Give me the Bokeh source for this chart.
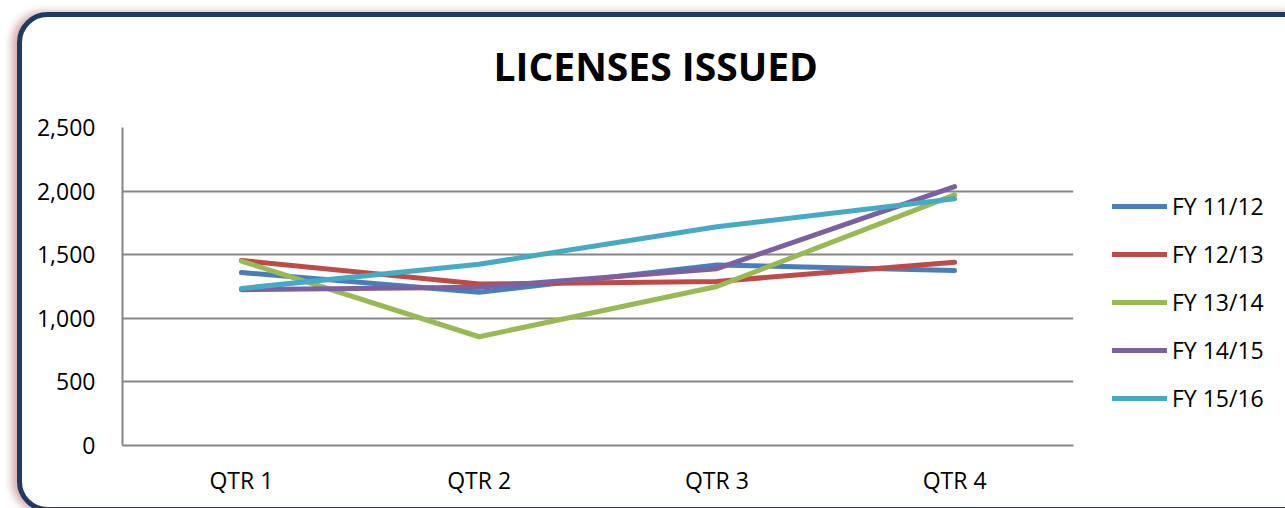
from bokeh.plotting import figure
from bokeh.models import (Legend, LegendItem, NumeralTickFormatter, FactorRange,
                          Range1d, FixedTicker)
from bokeh.embed import file_html
from bokeh.resources import INLINE

quarters = ["QTR 1", "QTR 2", "QTR 3", "QTR 4"]
series_names = ["FY 11/12", "FY 12/13", "FY 13/14", "FY 14/15", "FY 15/16"]
fy_11_12 = [1360, 1205, 1420, 1375]
fy_12_13 = [1455, 1270, 1290, 1440]
fy_13_14 = [1450, 855, 1250, 1970]
fy_14_15 = [1225, 1245, 1390, 2035]
fy_15_16 = [1235, 1425, 1720, 1940]
y_ticks = [0, 500, 1000, 1500, 2000, 2500]

colors = ["#4A7EBB", "#BE4B48", "#98B954", "#7D60A0", "#46AAC5"]
FONT = "Open Sans"

# decorative rounded frame with soft shadow, drawn as the element background
bg_svg = (
    "<svg xmlns='http://www.w3.org/2000/svg' width='1285' height='508'>"
    "<defs><filter id='s' x='-5%' y='-10%' width='110%' height='120%'>"
    "<feGaussianBlur stdDeviation='4'/></filter></defs>"
    "<rect x='12' y='12' width='1300' height='500' rx='30' fill='%23C58A8A' "
    "opacity='0.75' filter='url(%23s)'/>"
    "<rect x='19.5' y='14.5' width='1300' height='495' rx='28' fill='white' "
    "stroke='%231F3B63' stroke-width='5'/>"
    "</svg>"
)

p = figure(frame_width=951, frame_height=318,
           x_range=FactorRange(*quarters, range_padding=0),
           y_range=Range1d(0, 2500), output_backend="svg", toolbar_location=None,
           min_border_left=122, min_border_right=212, min_border_top=127,
           min_border_bottom=63)
p.styles = {"background-image": 'url("data:image/svg+xml;utf8,' + bg_svg + '")',
            "background-repeat": "no-repeat"}
p.outline_line_color = None
p.background_fill_color = None
p.border_fill_color = None

# title
p.title.text = "LICENSES ISSUED"
p.title.text_font = FONT
p.title.text_font_style = "bold"
p.title.text_font_size = "39px"
p.title.text_color = "black"
p.title.align = "left"
p.title.offset = 371
p.title.vertical_align = "bottom"
p.title.standoff = 72

# axes
p.yaxis.ticker = FixedTicker(ticks=y_ticks)
p.yaxis.formatter = NumeralTickFormatter(format="0,0")
for ax in (p.xaxis[0], p.yaxis[0]):
    ax.axis_line_color = "#868686"
    ax.axis_line_width = 2
    ax.major_tick_line_color = None
    ax.minor_tick_line_color = None
    ax.major_label_text_font = FONT
    ax.major_label_text_font_size = "23px"
    ax.major_label_text_color = "black"
p.yaxis.major_label_standoff = 21
p.xaxis.major_label_standoff = 12
p.xgrid.grid_line_color = None
p.ygrid.grid_line_color = "#868686"
p.ygrid.grid_line_width = 2

# lines
items = []
for name, vals, c in zip(series_names, [fy_11_12, fy_12_13, fy_13_14, fy_14_15, fy_15_16], colors):
    r = p.line(quarters, vals, line_color=c, line_width=5, line_cap="round", line_join="round")
    items.append(LegendItem(label=name, renderers=[r]))

legend = Legend(items=items, location=(39, 31), orientation="vertical",
                glyph_width=55, glyph_height=32, label_height=32, spacing=16,
                label_standoff=5, padding=0, margin=0, border_line_color=None,
                background_fill_alpha=0, label_text_font=FONT,
                label_text_font_size="23px", label_text_color="black")
p.add_layout(legend, "right")

open("out.html", "w").write(file_html(p, INLINE))
